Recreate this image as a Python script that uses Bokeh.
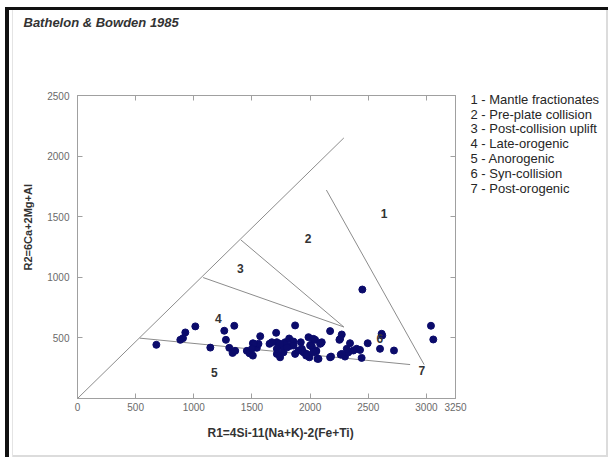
from bokeh.plotting import figure
from bokeh.models import Range1d, FixedTicker, LinearAxis, Title, ColumnDataSource
from bokeh.embed import file_html
from bokeh.resources import INLINE
from bokeh.core.properties import value

title = "Bathelon & Bowden 1985"
x_label = "R1=4Si-11(Na+K)-2(Fe+Ti)"
y_label = "R2=6Ca+2Mg+Al"
x_ticks = [0, 500, 1000, 1500, 2000, 2500, 3000, 3250]
y_ticks = [500, 1000, 1500, 2000, 2500]

# field boundary segments (R1, R2)
seg_x0 = [0, 1405, 1080, 535, 2140]
seg_y0 = [0, 1308, 998, 498, 1720]
seg_x1 = [2290, 2290, 2290, 2860, 2980]
seg_y1 = [2150, 590, 590, 280, 280]

field_ids = ["1", "2", "3", "4", "5", "6", "7"]
field_x = [2635, 1983, 1400, 1210, 1176, 2600, 2961]
field_y = [1530, 1324, 1076, 661, 213, 495, 230]

legend_items = ["1 - Mantle fractionates", "2 - Pre-plate collision",
                "3 - Post-collision uplift", "4 - Late-orogenic",
                "5 - Anorogenic", "6 - Syn-collision", "7 - Post-orogenic"]

r1 = [678, 884, 907, 927, 1013, 1142, 1262, 1276, 1348, 1305, 1333, 1356,
      1456, 1479, 1508, 1508, 1542, 1556, 1571, 1651, 1708, 1714, 1714, 1742,
      1757, 1785, 1820, 1828, 1857, 1871, 1871, 1920, 1929, 1943, 1966, 1986,
      2006, 1994, 2028, 2052, 2063, 2100, 2172, 2449, 2272, 2252, 2343, 2495,
      2615, 2601, 2721, 3039, 3059, 2180, 2263, 2300, 2443, 2372, 2400, 2429,
      2329, 2072, 2043, 2092, 2015, 2052, 1971, 1514, 1500, 1671, 1742, 1714,
      1771, 1857, 1900, 2000, 2028, 2086, 2172, 2258, 2272, 2315, 2620, 1800]
r2 = [443, 484, 498, 545, 595, 420, 559, 484, 600, 418, 376, 393,
      393, 373, 354, 456, 418, 451, 514, 451, 542, 464, 368, 340,
      431, 464, 495, 434, 470, 603, 368, 464, 410, 381, 354, 506,
      443, 340, 492, 396, 327, 464, 556, 899, 528, 484, 456, 456,
      534, 410, 396, 600, 487, 346, 362, 346, 335, 396, 410, 401,
      381, 327, 484, 456, 429, 387, 368, 451, 410, 464, 451, 410,
      381, 437, 396, 437, 381, 451, 340, 492, 368, 410, 520, 420]

W, H = 608, 457
p = figure(width=W, height=H, output_backend="svg", toolbar_location=None,
           x_range=Range1d(0, 3250), y_range=Range1d(0, 2500),
           min_border_left=77, min_border_right=153, min_border_top=95,
           min_border_bottom=59)
p.grid.visible = False
p.outline_line_color = "#a0a0a0"
p.background_fill_color = "white"
p.border_fill_color = None
p.styles = {"box-shadow": "inset 5px 7px 0 0 white, inset 9px 10px 0 0 #111111, "
                          "inset 12px 0 0 0 white, inset 13px 0 0 0 #e4e4e4, "
                          "inset -2px -2px 0 0 #dcdcdc",
            "background-color": "white"}

for ax, ticks in ((p.xaxis[0], x_ticks), (p.yaxis[0], y_ticks)):
    ax.ticker = FixedTicker(ticks=ticks)
    ax.major_tick_in = 5
    ax.major_tick_out = 0
    ax.minor_tick_line_color = None
    ax.axis_line_color = "#a0a0a0"
    ax.major_tick_line_color = "#a0a0a0"
    ax.major_label_text_font = "Liberation Sans"
    ax.major_label_text_font_size = "10px"
    ax.major_label_text_color = "#6a6a6a"
p.xaxis[0].major_label_standoff = 4
p.yaxis[0].major_label_standoff = 8

for loc, ticks in (("above", x_ticks), ("right", y_ticks)):
    a = LinearAxis(ticker=FixedTicker(ticks=ticks), major_tick_in=5, major_tick_out=0,
                   minor_tick_line_color=None, axis_line_color="#a0a0a0",
                   major_tick_line_color="#a0a0a0", major_label_standoff=0,
                   major_label_overrides={t: "" for t in ticks})
    p.add_layout(a, loc)

# text-only key of the fields, written as labels of a bare axis on the right
row_step = 122
legend_pos = [2468 - row_step * i for i in range(len(legend_items))]
key_axis = LinearAxis(ticker=FixedTicker(ticks=legend_pos),
                      major_label_overrides=dict(zip(legend_pos, legend_items)),
                      axis_line_color=None, major_tick_line_color=None,
                      minor_tick_line_color=None, major_tick_in=0, major_tick_out=0,
                      major_label_standoff=15, major_label_text_font="Liberation Sans",
                      major_label_text_font_size="13px", major_label_text_color="#262626")
p.add_layout(key_axis, "right")

# main title, lifted by a spacer title
p.add_layout(Title(text=" ", text_font_size="1px", standoff=58), "above")
p.title.text = title
p.title.align = "left"
p.title.offset = -54
p.title.standoff = 10
p.title.text_font = "Liberation Sans"
p.title.text_font_size = "13px"
p.title.text_font_style = "bold italic"
p.title.text_color = "#333333"

# axis titles
p.add_layout(Title(text=x_label, align="left", offset=130, standoff=20,
                   text_font="Liberation Sans", text_font_size="12px",
                   text_font_style="bold", text_color="#333333"), "below")
p.add_layout(Title(text=y_label, align="left", offset=128, standoff=21,
                   text_font="Liberation Sans", text_font_size="11px",
                   text_font_style="bold", text_color="#333333"), "left")

p.segment(x0=seg_x0, y0=seg_y0, x1=seg_x1, y1=seg_y1, line_color="#8c8c8c", line_width=1)

src = ColumnDataSource(dict(x=r1, y=r2))
p.scatter("x", "y", source=src, size=7, fill_color="#0b0b6b", line_color="#0b0b6b")

p.text(x=field_x, y=field_y, text=field_ids, text_font=value("Liberation Sans"),
       text_font_size="12px", text_font_style="bold", text_color="#333333",
       text_align="center", text_baseline="middle")

open("out.html", "w").write(file_html(p, INLINE))
